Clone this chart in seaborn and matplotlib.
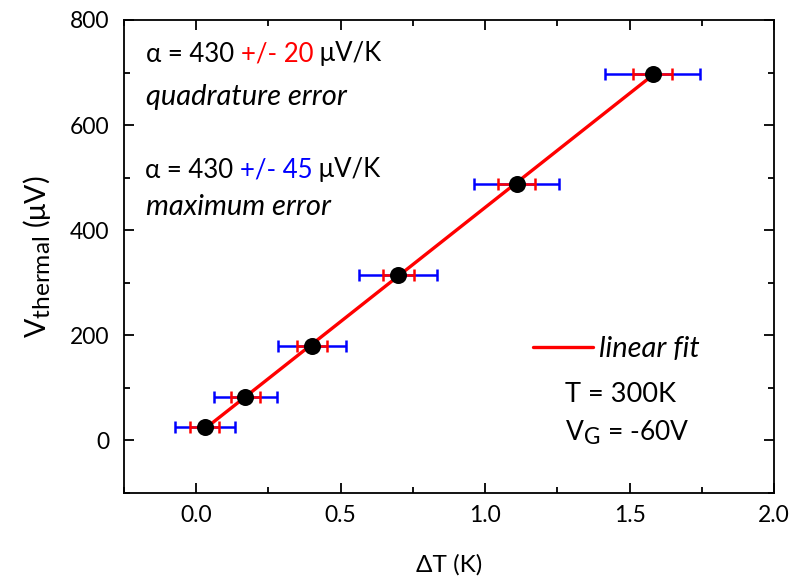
import numpy as np
import pandas as pd
import matplotlib
matplotlib.use("Agg")
import matplotlib.pyplot as plt
import matplotlib._mathtext as _mt
import seaborn as sns
from matplotlib.ticker import MultipleLocator

# ---- data ----
delta_T = [0.03, 0.17, 0.40, 0.70, 1.11, 1.58]
v_thermal = [25, 82, 180, 315, 488, 697]
err_quadrature = [0.050, 0.051, 0.052, 0.055, 0.064, 0.067]
err_maximum = [0.104, 0.110, 0.118, 0.135, 0.147, 0.164]

x_ticks = [0.0, 0.5, 1.0, 1.5, 2.0]
y_ticks = [0, 200, 400, 600, 800]

_mt.SHRINK_FACTOR = 0.86

sns.set_theme(style="ticks")
FAM = ['Lato', 'Liberation Serif', 'DejaVu Sans']
plt.rcParams['font.family'] = FAM
plt.rcParams['mathtext.fontset'] = 'custom'
plt.rcParams['mathtext.rm'] = 'Lato'
plt.rcParams['mathtext.it'] = 'Lato:italic'
plt.rcParams['text.color'] = 'black'
plt.rcParams['axes.labelcolor'] = 'black'

FS_TICK = 16.5
FS_TXT = 18.5
FS_IT = 21
fig = plt.figure(figsize=(7.89, 5.83), dpi=100)
ax = fig.add_axes([124/789, 1-493/583, (774-124)/789, (493-20)/583])

df = pd.DataFrame({"dT": delta_T, "V": v_thermal})
coef = np.polyfit(delta_T, v_thermal, 1)
xf = np.array([min(delta_T), max(delta_T)])
fit_df = pd.DataFrame({"dT": xf, "V": np.polyval(coef, xf)})

ax.errorbar(delta_T, v_thermal, xerr=err_maximum, fmt='none', ecolor='#0000ff',
            elinewidth=1.8, capsize=4.5, capthick=1.8, zorder=2)
ax.errorbar(delta_T, v_thermal, xerr=err_quadrature, fmt='none', ecolor='#ff0000',
            elinewidth=1.8, capsize=4.5, capthick=1.8, zorder=3)
sns.lineplot(data=fit_df, x="dT", y="V", color='#ff0000', linewidth=2.4, ax=ax,
             label="linear fit", zorder=4)
sns.scatterplot(data=df, x="dT", y="V", color='black', s=150, edgecolor='black',
                linewidth=0, ax=ax, zorder=5, legend=False)

ax.set_xlim(-0.25, 2.0)
ax.set_ylim(-100, 800)
ax.set_xticks(x_ticks)
ax.set_yticks(y_ticks)
ax.set_xticklabels([f"{v:.1f}" for v in x_ticks])
ax.set_yticklabels([str(v) for v in y_ticks])
ax.xaxis.set_minor_locator(MultipleLocator(0.25))
ax.yaxis.set_minor_locator(MultipleLocator(100))
ax.tick_params(which='both', direction='in', top=True, right=True, width=1.3,
               colors='black', labelsize=FS_TICK)
ax.tick_params(axis='y', pad=10.5)
ax.tick_params(axis='x', pad=9)
ax.tick_params(which='major', length=7)
ax.tick_params(which='minor', length=4)
for sp in ax.spines.values():
    sp.set_linewidth(1.3)
    sp.set_color('black')

ax.set_xlabel("ΔT (K)", fontsize=17.5, labelpad=20)
ax.set_ylabel(r"$\mathregular{V_{thermal}}$ (μV)", fontsize=20.5, labelpad=12)

leg = ax.legend(loc='center left', bbox_to_anchor=((533-124)/650, (493-349)/473),
                frameon=False, handlelength=2.05, handletextpad=0.2,
                borderpad=0, borderaxespad=0,
                prop={'family': FAM, 'style': 'italic', 'size': FS_IT})
for t in leg.get_texts():
    t.set_color('black')

def colored_line(x, y, parts, size=FS_TXT):
    t = ax.text(x, y, parts[0][0], color=parts[0][1], fontsize=size,
                transform=fig.transFigure, va='center', ha='left')
    prev = t
    for s, c in parts[1:]:
        prev = ax.annotate(s, xy=(1, 0), xycoords=prev, va='bottom', ha='left',
                           color=c, fontsize=size)
    return t

fx = lambda px: px / 789
fy = lambda py: 1 - py / 583

colored_line(fx(146), fy(54), [("α = 430 ", 'black'), ("+/- 20", '#ff0000'), (" μV/K", 'black')])
fig.text(fx(146), fy(97), "quadrature error", fontsize=FS_IT, style='italic', va='center', color='black')
colored_line(fx(145), fy(170), [("α = 430 ", 'black'), ("+/- 45", '#0000ff'), (" μV/K", 'black')])
fig.text(fx(146), fy(207), "maximum error", fontsize=FS_IT, style='italic', va='center', color='black')

fig.text(fx(565), fy(394), "T = 300K", fontsize=19.5, va='center', color='black')
fig.text(fx(565), fy(433), r"$\mathregular{V_G}$ = -60V", fontsize=19, va='center', color='black')

fig.savefig("out.png", dpi=100)
